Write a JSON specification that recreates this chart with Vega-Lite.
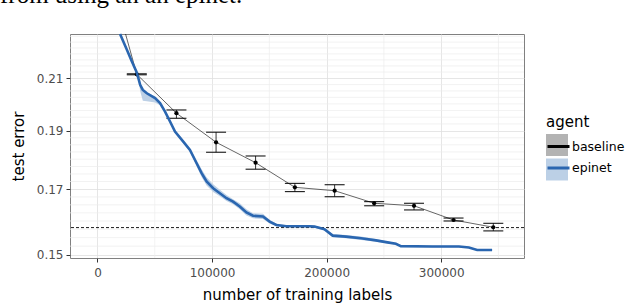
{
  "$schema": "https://vega.github.io/schema/vega-lite/v6.json",
  "width": 454,
  "height": 224,
  "autosize": {"type": "none"},
  "padding": {"left": 70, "top": 34, "right": 102, "bottom": 46},
  "title": {
    "text": "from using an an epinet.",
    "anchor": "start",
    "frame": "group",
    "orient": "top",
    "offset": 27,
    "dx": -70,
    "dy": 26,
    "baseline": "alphabetic",
    "font": "Liberation Serif",
    "fontSize": 25,
    "fontWeight": "normal",
    "color": "#000000"
  },
  "datasets": {
    "yminor": [
      {"y": 0.1525}, {"y": 0.155}, {"y": 0.1575}, {"y": 0.16}, {"y": 0.1625}, {"y": 0.165}, {"y": 0.1675},
      {"y": 0.1725}, {"y": 0.175}, {"y": 0.1775}, {"y": 0.18}, {"y": 0.1825}, {"y": 0.185}, {"y": 0.1875},
      {"y": 0.1925}, {"y": 0.195}, {"y": 0.1975}, {"y": 0.2}, {"y": 0.2025}, {"y": 0.205}, {"y": 0.2075},
      {"y": 0.2125}, {"y": 0.215}, {"y": 0.2175}, {"y": 0.22}, {"y": 0.2225}, {"y": 0.225}, {"y": 0.2275}
    ],
    "xminor": [{"x": 50000}, {"x": 150000}, {"x": 250000}, {"x": 350000}],
    "ref": [{"y": 0.158}],
    "baseline": [
      {"agent": "baseline", "x": 24500, "y": 0.2285},
      {"agent": "baseline", "x": 34300, "y": 0.2116, "lo": 0.2114, "hi": 0.2118},
      {"agent": "baseline", "x": 68900, "y": 0.1965, "lo": 0.1946, "hi": 0.1977},
      {"agent": "baseline", "x": 103500, "y": 0.1859, "lo": 0.1824, "hi": 0.1895},
      {"agent": "baseline", "x": 138000, "y": 0.1788, "lo": 0.1766, "hi": 0.1811},
      {"agent": "baseline", "x": 172300, "y": 0.1706, "lo": 0.1692, "hi": 0.1719},
      {"agent": "baseline", "x": 207000, "y": 0.1695, "lo": 0.1676, "hi": 0.1714},
      {"agent": "baseline", "x": 241500, "y": 0.1655, "lo": 0.1647, "hi": 0.1660},
      {"agent": "baseline", "x": 276300, "y": 0.1647, "lo": 0.1634, "hi": 0.1655},
      {"agent": "baseline", "x": 310800, "y": 0.1603, "lo": 0.1600, "hi": 0.1609},
      {"agent": "baseline", "x": 345500, "y": 0.1581, "lo": 0.1570, "hi": 0.1593}
    ],
    "epinet": [
      {"agent": "epinet", "x": 19700, "y": 0.2285, "lo": 0.2280, "hi": 0.2285},
      {"agent": "epinet", "x": 25650, "y": 0.2217, "lo": 0.2212, "hi": 0.2222},
      {"agent": "epinet", "x": 30000, "y": 0.2168, "lo": 0.2163, "hi": 0.2173},
      {"agent": "epinet", "x": 34000, "y": 0.2127, "lo": 0.2122, "hi": 0.2132},
      {"agent": "epinet", "x": 35740, "y": 0.2100, "lo": 0.2095, "hi": 0.2104},
      {"agent": "epinet", "x": 37220, "y": 0.2074, "lo": 0.2050, "hi": 0.2080},
      {"agent": "epinet", "x": 39570, "y": 0.2054, "lo": 0.2012, "hi": 0.2060},
      {"agent": "epinet", "x": 43050, "y": 0.2041, "lo": 0.2010, "hi": 0.2046},
      {"agent": "epinet", "x": 50260, "y": 0.2022, "lo": 0.2005, "hi": 0.2027},
      {"agent": "epinet", "x": 54610, "y": 0.2003, "lo": 0.1995, "hi": 0.2008},
      {"agent": "epinet", "x": 58960, "y": 0.1971, "lo": 0.1966, "hi": 0.1976},
      {"agent": "epinet", "x": 63310, "y": 0.1934, "lo": 0.1929, "hi": 0.1939},
      {"agent": "epinet", "x": 67650, "y": 0.1897, "lo": 0.1892, "hi": 0.1902},
      {"agent": "epinet", "x": 74870, "y": 0.1861, "lo": 0.1856, "hi": 0.1866},
      {"agent": "epinet", "x": 80700, "y": 0.1832, "lo": 0.1826, "hi": 0.1838},
      {"agent": "epinet", "x": 86530, "y": 0.1786, "lo": 0.1776, "hi": 0.1796},
      {"agent": "epinet", "x": 90870, "y": 0.1753, "lo": 0.1740, "hi": 0.1766},
      {"agent": "epinet", "x": 95220, "y": 0.1725, "lo": 0.1712, "hi": 0.1739},
      {"agent": "epinet", "x": 100960, "y": 0.1703, "lo": 0.1691, "hi": 0.1716},
      {"agent": "epinet", "x": 106790, "y": 0.1687, "lo": 0.1677, "hi": 0.1698},
      {"agent": "epinet", "x": 112610, "y": 0.1671, "lo": 0.1662, "hi": 0.1681},
      {"agent": "epinet", "x": 118350, "y": 0.1660, "lo": 0.1652, "hi": 0.1668},
      {"agent": "epinet", "x": 124180, "y": 0.1645, "lo": 0.1636, "hi": 0.1655},
      {"agent": "epinet", "x": 130000, "y": 0.1626, "lo": 0.1617, "hi": 0.1636},
      {"agent": "epinet", "x": 135750, "y": 0.1616, "lo": 0.1608, "hi": 0.1624},
      {"agent": "epinet", "x": 144440, "y": 0.1614, "lo": 0.1606, "hi": 0.1622},
      {"agent": "epinet", "x": 150270, "y": 0.1598, "lo": 0.1592, "hi": 0.1604},
      {"agent": "epinet", "x": 156090, "y": 0.1588, "lo": 0.1584, "hi": 0.1592},
      {"agent": "epinet", "x": 164790, "y": 0.1584, "lo": 0.1581, "hi": 0.1587},
      {"agent": "epinet", "x": 185050, "y": 0.1584, "lo": 0.1581, "hi": 0.1587},
      {"agent": "epinet", "x": 189400, "y": 0.1583, "lo": 0.1580, "hi": 0.1586},
      {"agent": "epinet", "x": 198100, "y": 0.1575, "lo": 0.1571, "hi": 0.1579},
      {"agent": "epinet", "x": 205310, "y": 0.1556, "lo": 0.1551, "hi": 0.1561},
      {"agent": "epinet", "x": 216960, "y": 0.1553, "lo": 0.1548, "hi": 0.1558},
      {"agent": "epinet", "x": 230010, "y": 0.1548, "lo": 0.1543, "hi": 0.1553},
      {"agent": "epinet", "x": 243050, "y": 0.1542, "lo": 0.1538, "hi": 0.1546},
      {"agent": "epinet", "x": 253140, "y": 0.1536, "lo": 0.1533, "hi": 0.1539},
      {"agent": "epinet", "x": 260450, "y": 0.1532, "lo": 0.1529, "hi": 0.1535},
      {"agent": "epinet", "x": 264790, "y": 0.1525, "lo": 0.1523, "hi": 0.1527},
      {"agent": "epinet", "x": 292270, "y": 0.1524, "lo": 0.1522, "hi": 0.1526},
      {"agent": "epinet", "x": 315490, "y": 0.1524, "lo": 0.1522, "hi": 0.1526},
      {"agent": "epinet", "x": 324190, "y": 0.1521, "lo": 0.1519, "hi": 0.1523},
      {"agent": "epinet", "x": 331410, "y": 0.1514, "lo": 0.1512, "hi": 0.1516},
      {"agent": "epinet", "x": 344450, "y": 0.1514, "lo": 0.1512, "hi": 0.1516}
    ]
  },
  "layer": [
    {
      "data": {"name": "yminor"},
      "mark": {"type": "rule", "color": "#ededed", "strokeWidth": 0.7},
      "encoding": {
        "y": {"field": "y", "type": "quantitative", "scale": {"type": "log", "domain": [0.1491, 0.2285], "nice": false}}
      }
    },
    {
      "data": {"name": "xminor"},
      "mark": {"type": "rule", "color": "#ededed", "strokeWidth": 0.7},
      "encoding": {
        "x": {"field": "x", "type": "quantitative", "scale": {"domain": [-24000, 372300], "nice": false, "zero": false}}
      }
    },
    {
      "data": {"name": "epinet"},
      "mark": {"type": "area", "opacity": 1},
      "encoding": {
        "x": {"field": "x", "type": "quantitative", "scale": {"domain": [-24000, 372300], "nice": false, "zero": false},
          "axis": {"title": "number of training labels", "values": [0, 100000, 200000, 300000], "format": "d", "grid": true, "labelPadding": 5, "titlePadding": 9}},
        "y": {"field": "lo", "type": "quantitative", "scale": {"type": "log", "domain": [0.1491, 0.2285], "nice": false},
          "axis": {"title": "test error", "values": [0.15, 0.17, 0.19, 0.21], "format": ".2f", "grid": true, "labelPadding": 3, "titlePadding": 10}},
        "y2": {"field": "hi"},
        "fill": {"field": "agent", "type": "nominal",
          "scale": {"domain": ["baseline", "epinet"], "range": ["#b3b3b3", "#bcd0e6"]},
          "legend": {"orient": "none", "legendX": 476, "legendY": 81, "direction": "vertical", "symbolType": "square", "symbolSize": 484, "symbolStrokeWidth": 0, "symbolOpacity": 1, "title": " ", "labelExpr": "''", "zindex": 0}}
      }
    },
    {
      "data": {"name": "baseline"},
      "mark": {"type": "line", "strokeWidth": 0.6},
      "encoding": {
        "x": {"field": "x", "type": "quantitative", "scale": {"domain": [-24000, 372300], "nice": false, "zero": false}},
        "y": {"field": "y", "type": "quantitative", "scale": {"type": "log", "domain": [0.1491, 0.2285], "nice": false}},
        "stroke": {"field": "agent", "type": "nominal",
          "scale": {"domain": ["baseline", "epinet", "none"], "range": ["#000000", "#2a66b0", "#ffffff"]},
          "legend": {"orient": "none", "legendX": 476, "legendY": 81, "direction": "vertical", "values": ["baseline", "epinet"], "symbolType": "stroke", "symbolSize": 484, "symbolStrokeWidth": 3, "labelOffset": 1, "labelFontSize": 12.5, "title": "agent", "zindex": 1}}
      }
    },
    {
      "data": {"name": "baseline"},
      "transform": [{"filter": "isValid(datum.lo)"}],
      "mark": {"type": "rule", "color": "#000000", "strokeWidth": 0.8},
      "encoding": {
        "x": {"field": "x", "type": "quantitative", "scale": {"domain": [-24000, 372300], "nice": false, "zero": false}},
        "y": {"field": "lo", "type": "quantitative", "scale": {"type": "log", "domain": [0.1491, 0.2285], "nice": false}},
        "y2": {"field": "hi"}
      }
    },
    {
      "data": {"name": "baseline"},
      "transform": [{"filter": "isValid(datum.lo)"}],
      "mark": {"type": "tick", "orient": "horizontal", "color": "#000000", "size": 20, "thickness": 1, "opacity": 1},
      "encoding": {
        "x": {"field": "x", "type": "quantitative", "scale": {"domain": [-24000, 372300], "nice": false, "zero": false}},
        "y": {"field": "lo", "type": "quantitative", "scale": {"type": "log", "domain": [0.1491, 0.2285], "nice": false}}
      }
    },
    {
      "data": {"name": "baseline"},
      "transform": [{"filter": "isValid(datum.lo)"}],
      "mark": {"type": "tick", "orient": "horizontal", "color": "#000000", "size": 20, "thickness": 1, "opacity": 1},
      "encoding": {
        "x": {"field": "x", "type": "quantitative", "scale": {"domain": [-24000, 372300], "nice": false, "zero": false}},
        "y": {"field": "hi", "type": "quantitative", "scale": {"type": "log", "domain": [0.1491, 0.2285], "nice": false}}
      }
    },
    {
      "data": {"name": "baseline"},
      "transform": [{"filter": "isValid(datum.lo)"}],
      "mark": {"type": "circle", "color": "#000000", "size": 18, "opacity": 1},
      "encoding": {
        "x": {"field": "x", "type": "quantitative", "scale": {"domain": [-24000, 372300], "nice": false, "zero": false}},
        "y": {"field": "y", "type": "quantitative", "scale": {"type": "log", "domain": [0.1491, 0.2285], "nice": false}}
      }
    },
    {
      "data": {"name": "ref"},
      "mark": {"type": "rule", "color": "#000000", "strokeWidth": 0.9, "strokeDash": [3, 2]},
      "encoding": {
        "y": {"field": "y", "type": "quantitative", "scale": {"type": "log", "domain": [0.1491, 0.2285], "nice": false}}
      }
    },
    {
      "data": {"name": "epinet"},
      "mark": {"type": "line", "strokeWidth": 2.6},
      "encoding": {
        "x": {"field": "x", "type": "quantitative", "scale": {"domain": [-24000, 372300], "nice": false, "zero": false}},
        "y": {"field": "y", "type": "quantitative", "scale": {"type": "log", "domain": [0.1491, 0.2285], "nice": false}},
        "stroke": {"field": "agent", "type": "nominal", "scale": {"domain": ["baseline", "epinet", "none"], "range": ["#000000", "#2a66b0", "#ffffff"]}}
      }
    }
  ],
  "config": {
    "font": "DejaVu Sans",
    "view": {"stroke": "#808080", "strokeWidth": 1},
    "axis": {
      "labelFont": "DejaVu Sans", "labelFontSize": 12, "labelColor": "#4d4d4d",
      "titleFont": "DejaVu Sans", "titleFontSize": 15, "titleFontWeight": "normal", "titleColor": "#000000",
      "tickColor": "#333333", "tickSize": 4, "tickWidth": 1, "domain": false,
      "gridColor": "#e0e0e0", "gridWidth": 0.8
    },
    "legend": {
      "padding": 0,
      "titleFont": "DejaVu Sans", "titleFontSize": 15, "titleFontWeight": "normal", "titleColor": "#000000", "titlePadding": 4,
      "labelFont": "DejaVu Sans", "labelFontSize": 13, "labelColor": "#000000", "labelOffset": 4,
      "rowPadding": 2.5
    }
  }
}
